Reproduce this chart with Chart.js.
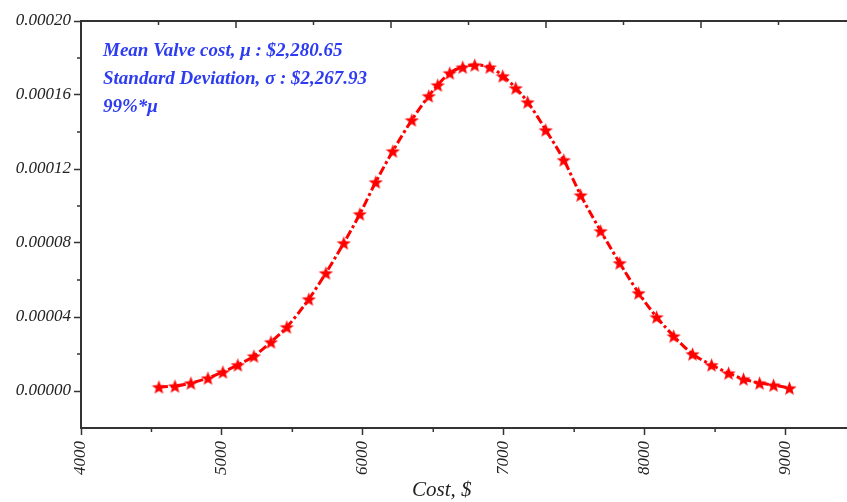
<!DOCTYPE html>
<html lang="en">
<head>
  <meta charset="UTF-8">
  <title>Valve cost distribution</title>
  <style>
    body { margin: 0; background: #fff; overflow: hidden; }
    #wrap { width: 847px; height: 502px; overflow: hidden; }
  </style>
</head>
<body>
  <div id="wrap">
    <canvas id="costChart" width="870" height="502"></canvas>
  </div>

  <script src="https://cdn.jsdelivr.net/npm/chart.js"></script>
  <script>
    // values
    const costValues = [4553, 4667, 4780, 4901, 5007, 5113, 5227, 5348, 5461, 5617,
      5738, 5865, 5979, 6092, 6213, 6348, 6468, 6532, 6617, 6709,
      6794, 6901, 6993, 7085, 7170, 7298, 7426, 7546, 7688, 7823,
      7957, 8085, 8206, 8340, 8475, 8596, 8702, 8816, 8915, 9028];
    const densityValues = [0.0000022, 0.0000027, 0.0000043, 0.0000070, 0.0000103, 0.0000141, 0.0000189, 0.0000265, 0.0000346, 0.0000497,
      0.0000638, 0.0000800, 0.0000957, 0.0001130, 0.0001297, 0.0001465, 0.0001595, 0.0001654, 0.0001719, 0.0001751,
      0.0001762, 0.0001751, 0.0001703, 0.0001638, 0.0001562, 0.0001411, 0.0001249, 0.0001059, 0.0000865, 0.0000692,
      0.0000530, 0.0000400, 0.0000297, 0.0000200, 0.0000141, 0.0000097, 0.0000065, 0.0000043, 0.0000032, 0.0000016];

    const xTickValues = [4000, 5000, 6000, 7000, 8000, 9000];
    const xMinorTicks = [4500, 5500, 6500, 7500, 8500];
    const yTickValues = [0, 0.00004, 0.00008, 0.00012, 0.00016, 0.0002];
    const yMinorTicks = [0.00002, 0.00006, 0.0001, 0.00014, 0.00018];
    const topMajorTicks = [1, 2, 3, 4, 5];
    const topMinorTicks = [0.5, 1.5, 2.5, 3.5, 4.5];

    const noteLines = [
      "Mean Valve cost, \u03BC : $2,280.65",
      "Standard Deviation, \u03C3 : $2,267.93",
      "99%*\u03BC"
    ];
    const xTitle = "Cost, $";

    const serif = "'Liberation Serif', 'DejaVu Serif', serif";

    // filled five point star marker
    function makeStar(size, color) {
      const c = document.createElement("canvas");
      c.width = size; c.height = size;
      const g = c.getContext("2d");
      const cx = size / 2, cy = size / 2 + 0.8;
      const outer = size / 2, inner = outer * 0.42;
      g.beginPath();
      for (let i = 0; i < 10; i++) {
        const r = i % 2 === 0 ? outer : inner;
        const a = -Math.PI / 2 + i * Math.PI / 5;
        g.lineTo(cx + r * Math.cos(a), cy + r * Math.sin(a));
      }
      g.closePath();
      g.fillStyle = color;
      g.fill();
      return c;
    }
    const starMarker = makeStar(15, "#ff0000");

    function tickLine(ctx, x1, y1, x2, y2) {
      ctx.beginPath();
      ctx.moveTo(x1, y1);
      ctx.lineTo(x2, y2);
      ctx.stroke();
    }

    // minor ticks, inward top ticks, note text and axis title
    const decorPlugin = {
      id: "decor",
      afterDraw(chart) {
        const { ctx, chartArea, scales } = chart;
        ctx.save();
        ctx.strokeStyle = "#333";
        ctx.lineWidth = 1.5;
        xMinorTicks.forEach(v => {
          const px = scales.x.getPixelForValue(v);
          tickLine(ctx, px, chartArea.bottom, px, chartArea.bottom + 4);
        });
        yMinorTicks.forEach(v => {
          const py = scales.y.getPixelForValue(v);
          tickLine(ctx, chartArea.left - 4, py, chartArea.left, py);
        });
        topMajorTicks.forEach(v => {
          const px = scales.xTop.getPixelForValue(v);
          tickLine(ctx, px, chartArea.top, px, chartArea.top + 7);
        });
        topMinorTicks.forEach(v => {
          const px = scales.xTop.getPixelForValue(v);
          tickLine(ctx, px, chartArea.top, px, chartArea.top + 4);
        });

        ctx.fillStyle = "#2d3cf0";
        ctx.font = "italic bold 19px " + serif;
        ctx.textBaseline = "middle";
        ctx.textAlign = "left";
        noteLines.forEach((t, i) => {
          ctx.fillText(t, chartArea.left + 22, chartArea.top + 30 + i * 28);
        });

        ctx.fillStyle = "#222";
        ctx.font = "italic 21px " + serif;
        ctx.textAlign = "center";
        ctx.fillText(xTitle, scales.x.getPixelForValue(6560), 490);
        ctx.restore();
      }
    };

    const tickFont = { family: serif, style: "italic", size: 17 };

    new Chart(document.getElementById("costChart"), {
      type: "line",
      data: {
        datasets: [{
          data: costValues.map((c, i) => ({ x: c, y: densityValues[i] })),
          borderColor: "#ff0000",
          backgroundColor: "#ff0000",
          borderWidth: 3,
          borderDash: [9, 3, 3, 3],
          pointStyle: starMarker,
          cubicInterpolationMode: "monotone",
          fill: false
        }]
      },
      options: {
        responsive: false,
        animation: false,
        layout: { padding: { left: 0, right: 14, top: 0, bottom: 0 } },
        plugins: { legend: { display: false }, tooltip: { enabled: false } },
        scales: {
          x: {
            type: "linear",
            position: "bottom",
            min: 4000,
            max: 9500,
            afterBuildTicks: s => { s.ticks = xTickValues.map(v => ({ value: v })); },
            afterFit: s => { s.height = 74; },
            ticks: {
              autoSkip: false,
              minRotation: 90,
              maxRotation: 90,
              padding: 6,
              color: "#222",
              font: tickFont,
              callback: v => String(v)
            },
            grid: { drawOnChartArea: false, tickLength: 7, tickWidth: 1.5, tickColor: "#333" },
            border: { color: "#333", width: 2 }
          },
          xTop: {
            type: "linear",
            position: "top",
            min: 0,
            max: 5,
            afterFit: s => { s.height = 21; },
            ticks: { display: false },
            grid: { display: false },
            border: { display: true, color: "#333", width: 2 }
          },
          y: {
            min: -0.00002,
            max: 0.0002,
            afterBuildTicks: s => { s.ticks = yTickValues.map(v => ({ value: v })); },
            afterFit: s => { s.width = 81; },
            ticks: {
              padding: 3,
              color: "#222",
              font: tickFont,
              callback: v => v.toFixed(5)
            },
            grid: { drawOnChartArea: false, tickLength: 7, tickWidth: 1.5, tickColor: "#333" },
            border: { color: "#333", width: 2 }
          }
        }
      },
      plugins: [decorPlugin]
    });
  </script>
</body>
</html>
